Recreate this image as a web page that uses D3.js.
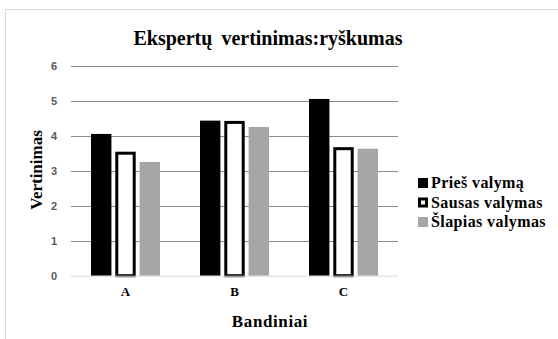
<!DOCTYPE html>
<html>
<head>
<meta charset="utf-8">
<script src="https://cdn.jsdelivr.net/npm/d3@7/dist/d3.min.js"></script>
<style>
  html, body { margin: 0; padding: 0; background: #fff; }
  svg { display: block; }
</style>
</head>
<body>
<svg id="chart" width="558" height="339"></svg>
<script>
// Sample groups and expert scores for each cleaning method
const categories = ["A", "B", "C"];
const seriesNames = ["Prieš valymą", "Sausas valymas", "Šlapias valymas"];
const priesValyma = [4.05, 4.43, 5.05];
const sausasValymas = [3.5, 4.38, 3.63];
const slapiasValymas = [3.25, 4.25, 3.63];
const yTicks = [0, 1, 2, 3, 4, 5, 6];

const seriesValues = [priesValyma, sausasValymas, slapiasValymas];
const seriesStyle = [
  { fill: "#000000", stroke: "none", sw: 0 },
  { fill: "#ffffff", stroke: "#000000", sw: 3 },
  { fill: "#a6a6a6", stroke: "none", sw: 0 }
];

const svg = d3.select("#chart");
const serif = "'Liberation Serif', 'Times New Roman', serif";
const sans = "'Liberation Sans', Arial, sans-serif";

// Outer chart frame
svg.append("rect")
  .attr("x", 5.5).attr("y", 9.5)
  .attr("width", 600).attr("height", 400)
  .attr("fill", "#fff").attr("stroke", "#d9d9d9").attr("stroke-width", 1);

const plot = { left: 71, right: 398, top: 65.7, bottom: 275.7 };

const x = d3.scaleBand().domain(categories).range([plot.left, plot.right]).paddingInner(0).paddingOuter(0);
const xs = d3.scaleBand().domain(d3.range(seriesNames.length)).range([0, 69]).paddingInner(0.16);
const y = d3.scaleLinear().domain([0, 6]).range([plot.bottom, plot.top]);

// Gridlines
svg.append("g")
  .selectAll("line")
  .data(yTicks.filter(t => t > 0))
  .join("line")
  .attr("x1", plot.left).attr("x2", plot.right)
  .attr("y1", d => Math.round(y(d)) + 0.5).attr("y2", d => Math.round(y(d)) + 0.5)
  .attr("stroke", "#8c8c8c").attr("stroke-width", 1);

// Y axis tick labels
const yAxis = d3.axisLeft(y).tickValues(yTicks).tickFormat(d3.format("d")).tickSize(0).tickPadding(14);
const gy = svg.append("g").attr("transform", `translate(${plot.left},0)`).call(yAxis);
gy.select(".domain").remove();
gy.selectAll("text")
  .attr("font-family", sans).attr("font-size", 11).attr("font-weight", "bold")
  .attr("fill", "#595959");

// Bars
const groups = svg.append("g")
  .selectAll("g")
  .data(categories)
  .join("g")
  .attr("transform", d => `translate(${x(d) + (x.bandwidth() - 69) / 2},0)`);

groups.selectAll("rect")
  .data((c, ci) => seriesValues.map((vals, si) => ({ si, v: vals[ci] })))
  .join("rect")
  .attr("x", d => xs(d.si) + seriesStyle[d.si].sw / 2)
  .attr("width", d => xs.bandwidth() - seriesStyle[d.si].sw)
  .attr("y", d => y(d.v))
  .attr("height", d => y(0) - y(d.v))
  .attr("fill", d => seriesStyle[d.si].fill)
  .attr("stroke", d => seriesStyle[d.si].stroke)
  .attr("stroke-width", d => seriesStyle[d.si].sw);

// Baseline axis
svg.append("line")
  .attr("x1", plot.left).attr("x2", plot.right)
  .attr("y1", plot.bottom + 0.5).attr("y2", plot.bottom + 0.5)
  .attr("stroke", "#d9d9d9").attr("stroke-width", 1);

// X axis labels
const xAxis = d3.axisBottom(x).tickSize(0).tickPadding(11);
const gx = svg.append("g").attr("transform", `translate(0,${plot.bottom})`).call(xAxis);
gx.select(".domain").remove();
gx.selectAll("text")
  .attr("font-family", serif).attr("font-size", 13).attr("font-weight", "bold")
  .attr("fill", "#000");

// Title
svg.append("text")
  .attr("x", 268).attr("y", 45)
  .attr("text-anchor", "middle")
  .attr("font-family", serif).attr("font-size", 20).attr("font-weight", "bold")
  .attr("word-spacing", 4)
  .text("Ekspertų vertinimas:ryškumas");

// Axis titles
svg.append("text")
  .attr("transform", "translate(42,170) rotate(-90)")
  .attr("text-anchor", "middle")
  .attr("font-family", serif).attr("font-size", 17).attr("font-weight", "bold")
  .text("Vertinimas");

svg.append("text")
  .attr("x", 270).attr("y", 327)
  .attr("text-anchor", "middle")
  .attr("font-family", serif).attr("font-size", 17).attr("font-weight", "bold")
  .attr("letter-spacing", 0.6)
  .text("Bandiniai");

// Legend
const legend = svg.append("g")
  .selectAll("g")
  .data(seriesNames)
  .join("g")
  .attr("transform", (d, i) => `translate(418,${183 + i * 19.5})`);

legend.append("rect")
  .attr("x", (d, i) => seriesStyle[i].sw / 2)
  .attr("y", (d, i) => -5 + seriesStyle[i].sw / 2)
  .attr("width", (d, i) => 10 - seriesStyle[i].sw)
  .attr("height", (d, i) => 10 - seriesStyle[i].sw)
  .attr("fill", (d, i) => seriesStyle[i].fill)
  .attr("stroke", (d, i) => seriesStyle[i].stroke)
  .attr("stroke-width", (d, i) => seriesStyle[i].sw);

legend.append("text")
  .attr("x", 13).attr("y", 5)
  .attr("font-family", serif).attr("font-size", 16).attr("font-weight", "bold")
  .attr("letter-spacing", 0.4)
  .text(d => d);
</script>
</body>
</html>
